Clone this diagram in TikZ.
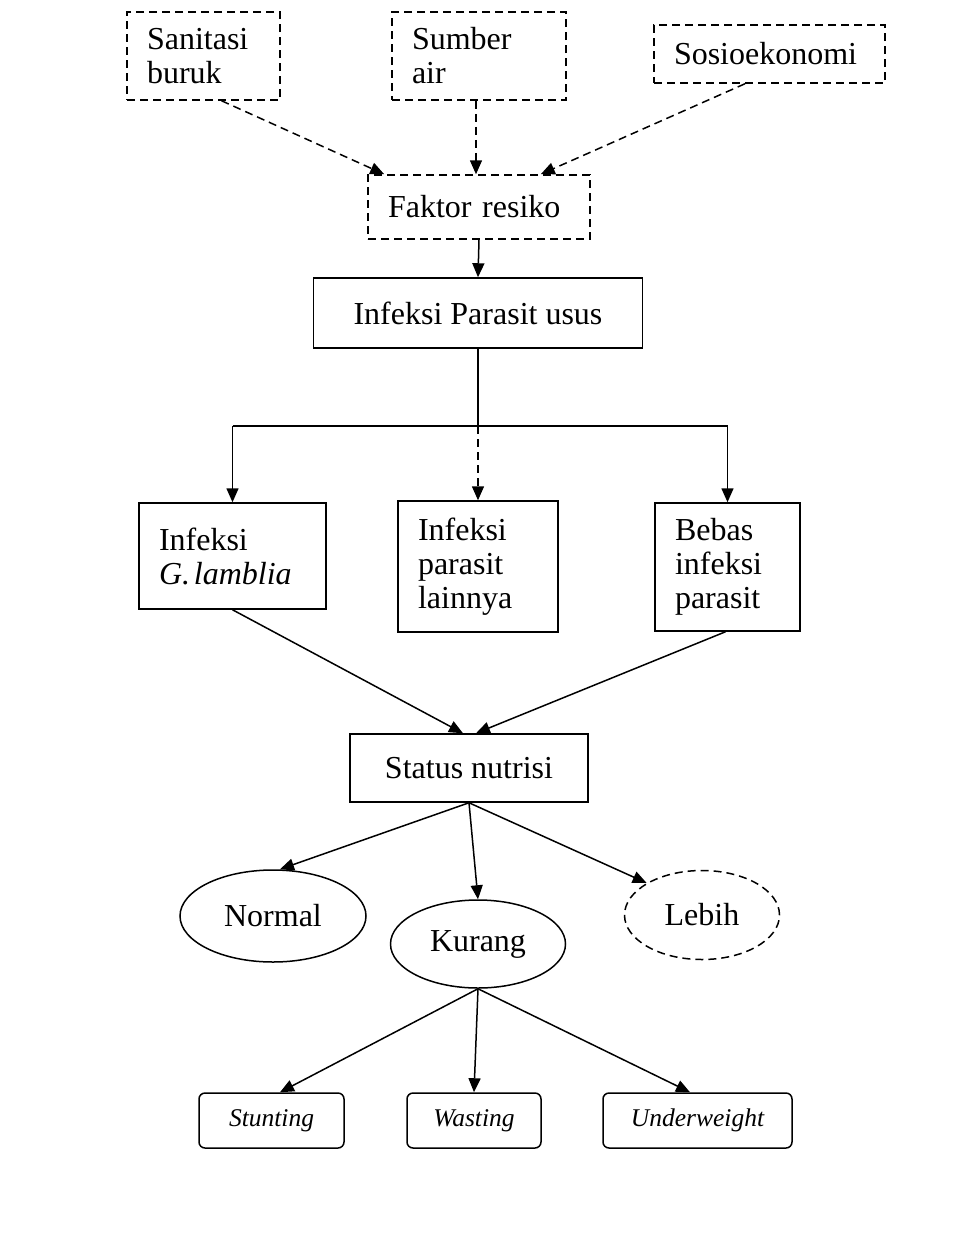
\documentclass[tikz,border=0pt]{standalone}
\usepackage{fontspec}
\setmainfont{Liberation Serif}
\usetikzlibrary{arrows.meta,shapes.geometric}
\begin{document}
\begin{tikzpicture}[x=0.5pt,y=-0.5pt,
  every node/.style={font=\fontsize{16pt}{17pt}\selectfont},
  box/.style={draw, line width=0.75pt, inner xsep=10pt, inner ysep=0pt, align=left},
  cbox/.style={draw, line width=0.75pt, inner sep=0pt, align=center},
  dpat/.style={dash pattern=on 4pt off 2.5pt},
  ell/.style={draw, line width=0.75pt, ellipse, inner sep=0pt},
  rbox/.style={draw, line width=0.75pt, rounded corners=3pt, inner sep=0pt,
    minimum height=27.5pt, font=\fontsize{12.75pt}{14pt}\selectfont\itshape},
  conn/.style={line width=0.75pt},
  arr/.style={line width=0.75pt, -{Triangle[length=7pt,width=6pt]}}]
\useasboundingbox (0,0) rectangle (960,1253);

% top factors
\node[box, dpat, minimum width=76.5pt, minimum height=44pt, text width=56.5pt] (san) at (203.5,56) {Sanitasi\\buruk};
\node[box, dpat, minimum width=87pt, minimum height=44pt, text width=67pt] (sum) at (479,56) {Sumber\\air};
\node[box, dpat, minimum width=115.5pt, minimum height=29pt, text width=95.5pt] (sos) at (769.5,54) {Sosioekonomi};
\node[box, dpat, minimum width=111pt, minimum height=32pt, text width=91pt] (fak) at (479,207) {Faktor resiko};

\draw[arr, dpat] ([xshift=9pt]san.south) -- ([xshift=8.5pt]fak.north west);
\draw[arr, dpat] ([xshift=-1.5pt]sum.south) -- ([xshift=-1.5pt]fak.north);
\draw[arr, dpat] ([xshift=-12.25pt]sos.south) -- ([xshift=-25pt]fak.north east);

% infection
\node[cbox, minimum width=164.5pt, minimum height=35pt] (ipu) at (478,313) {Infeksi Parasit usus};
\draw[arr] (fak.south) -- (ipu.north);

\node[box, minimum width=93.5pt, minimum height=53pt, text width=73.5pt] (ig) at (232.5,556) {Infeksi\\\textit{G.\hspace{0.12em}lamblia}};
\node[box, minimum width=80pt, minimum height=65.5pt, text width=60pt] (ip) at (478,566.5) {Infeksi\\parasit\\lainnya};
\node[box, minimum width=72.5pt, minimum height=64pt, text width=52.5pt] (ib) at (727.5,567) {Bebas\\infeksi\\parasit};

\coordinate (bl) at (232.5,426);
\coordinate (bm) at (478,426);
\coordinate (br) at (727.5,426);
\draw[conn] (ipu.south) -- (bm);
\draw[conn] (bl) -- (br);
\draw[arr] (bl) -- (ig.north);
\draw[arr] (br) -- (ib.north);
\draw[arr, dpat] (bm) -- (ip.north);

% nutrition status
\node[cbox, minimum width=119pt, minimum height=34pt] (sn) at (469,768) {Status nutrisi};
\draw[arr] (ig.south) -- ([xshift=-3pt]sn.north);
\draw[arr] ([xshift=-1pt]ib.south) -- ([xshift=3.5pt]sn.north);

\node[ell, minimum width=93pt, minimum height=46pt] (nor) at (273,916) {Normal};
\node[ell, minimum width=87.5pt, minimum height=44pt] (kur) at (478,944) {Kurang};
\node[ell, dpat, minimum width=77.5pt, minimum height=44.5pt] (leb) at (702,915) {Lebih};

\draw[arr] (sn.south) -- ([xshift=3.5pt]nor.north);
\draw[arr] (sn.south) -- (kur.north);
\draw[arr] (sn.south) -- (leb.north west);

% outcomes
\node[rbox, minimum width=72.5pt] (stu) at (271.5,1120.5) {Stunting};
\node[rbox, minimum width=67pt] (was) at (474,1120.5) {Wasting};
\node[rbox, minimum width=94.5pt] (und) at (697.5,1120.5) {Underweight};

\draw[arr] (kur.south) -- ([xshift=4.25pt]stu.north);
\draw[arr] (kur.south) -- (was.north);
\draw[arr] (kur.south) -- ([xshift=-3.75pt]und.north);
\end{tikzpicture}
\end{document}
